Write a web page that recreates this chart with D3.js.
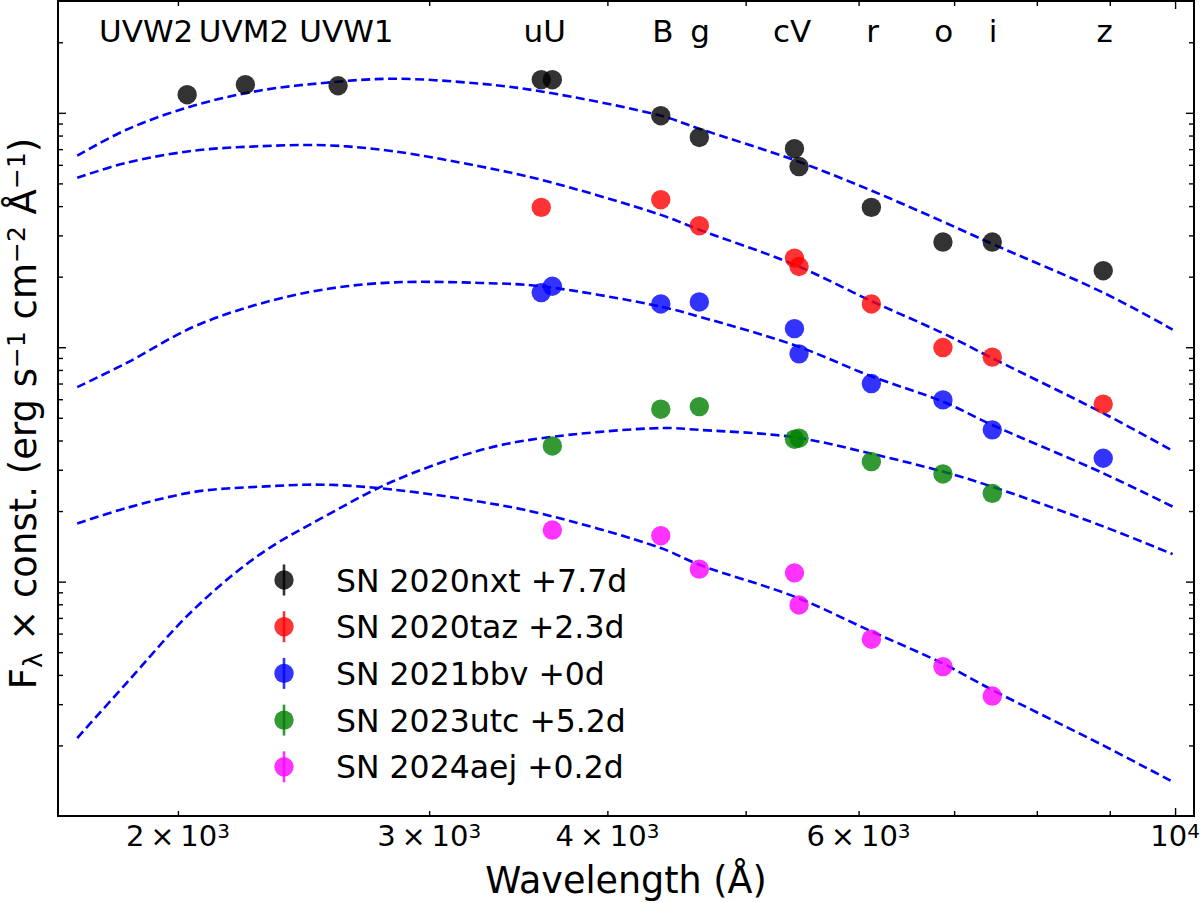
<!DOCTYPE html>
<html>
<head>
<meta charset="utf-8">
<script src="https://cdn.jsdelivr.net/npm/d3@7"></script>
<style>
  body { margin: 0; background: #fff; }
  text { font-family: "DejaVu Sans", sans-serif; fill: #000; }
</style>
</head>
<body>
<div id="chart"></div>
<script>
'use strict';

// filter bands and their effective wavelengths (Å)
var bands = ["UVW2", "UVM2", "UVW1", "u", "U", "B", "g", "c", "V", "r", "o", "i", "z"];
var bandWave = [2030, 2230, 2590, 3595, 3660, 4360, 4640, 5410, 5450, 6125, 6875, 7445, 8905];

// labels written along the top of the plot
var bandLabels = ["UVW2", "UVM2", "UVW1", "uU", "B", "g", "cV", "r", "o", "i", "z"];
var bandLabelWave = [1900, 2225, 2625, 3615, 4375, 4645, 5390, 6138, 6884, 7454, 8925];
var bandLabelFlux = 2000;

// photometry, F_lambda x const (arbitrary units), same order as bands
var sn2020nxt = [1195, 1318, 1305, 1385, 1385, 972, 785, 703, 590, 395, 281, 281, 212];
var sn2020taz = [null, null, null, 395, null, 426, 330, 240, 221, 153, 99.7, 90.7, 57.2];
var sn2021bbv = [null, null, null, 171, 182, 153, 156, 120, 93.7, 70.0, 59.6, 44.4, 33.6];
var sn2023utc = [null, null, null, null, 37.9, 54.4, 55.8, 40.5, 40.9, 32.5, 28.8, 23.8, null];
var sn2024aej = [null, null, null, null, 16.6, 15.7, 11.3, 10.9, 7.95, 5.68, 4.34, 3.25, null];

// blackbody fits
var fitWave = [1700, 1840, 2050, 2280, 2540, 2830, 3260, 3595, 4360, 4640, 5410, 6130, 6870, 7445, 8905, 9960];
var bbNxt = [656, 847, 1072, 1243, 1344, 1398, 1331, 1234, 972, 855, 628, 465, 344, 276, 171, 119];
var bbTaz = [528, 612, 689, 720, 727, 686, 590, 518, 367, 317, 225, 157, 115, 89.8, 52.3, 36.2];
var bbBbv = [67.6, 85.5, 122, 153, 177, 189, 188, 182, 149, 135, 102, 75.0, 58.7, 46.6, 29.0, 20.9];
var bbUtc = [2.15, 3.68, 7.57, 13.0, 19.1, 26.8, 36.4, 40.9, 45.2, 44.4, 41.3, 35.1, 29.5, 25.4, 17.2, 13.1];
var bbAej = [17.7, 20.6, 24.1, 25.4, 25.9, 24.7, 21.9, 19.5, 13.9, 11.8, 8.63, 6.12, 4.48, 3.45, 2.00, 1.40];

var seriesNames = ["SN 2020nxt +7.7d", "SN 2020taz +2.3d", "SN 2021bbv +0d", "SN 2023utc +5.2d", "SN 2024aej +0.2d"];
var seriesColors = ["black", "red", "blue", "green", "magenta"];
var seriesFlux = [sn2020nxt, sn2020taz, sn2021bbv, sn2023utc, sn2024aej];
var seriesFits = [bbNxt, bbTaz, bbBbv, bbUtc, bbAej];

// axis ticks
var xMinorTicks = [2000, 3000, 4000, 5000, 6000, 7000, 8000, 9000];
var xMajorTicks = [10000];
var xLabelVals = [2000, 3000, 4000, 6000, 10000];
var xLabelMant = ["2", "3", "4", "6", ""];
var xLabelExp = ["3", "3", "3", "3", "4"];
var yMajorTicks = [10, 100, 1000];

var el_width = 1200, el_height = 903;
var margin = {top: 1, right: 6, bottom: 87, left: 58},
  width = el_width - margin.left - margin.right,
  height = el_height - margin.top - margin.bottom;

var svg = d3.select("#chart").append("svg")
  .attr("width", el_width)
  .attr("height", el_height)
  .append("g")
  .attr("transform", "translate(" + margin.left + "," + margin.top + ")");

var x = d3.scaleLog().domain([1648, 10310]).range([0, width]),
  y = d3.scaleLog().domain([1, 3000]).range([height, 0]);

var yMinorTicks = [];
[1, 10, 100, 1000].forEach(function(dec){
  for (var k = 2; k <= 9; k++) if (dec * k < 3000) yMinorTicks.push(dec * k);
});

var majorLen = 8, minorLen = 5;

function tickAxis(axis, vals, len){
  return axis.tickValues(vals).tickSize(-len).tickFormat("");
}

function drawTicks(g){
  g.select(".domain").remove();
  g.selectAll("line").attr("stroke", "#000").attr("stroke-width", 1.4);
}

svg.append("g").attr("transform", "translate(0," + height + ")").call(tickAxis(d3.axisBottom(x), xMinorTicks, minorLen)).call(drawTicks);
svg.append("g").attr("transform", "translate(0," + height + ")").call(tickAxis(d3.axisBottom(x), xMajorTicks, majorLen)).call(drawTicks);
svg.append("g").call(tickAxis(d3.axisTop(x), xMinorTicks, minorLen)).call(drawTicks);
svg.append("g").call(tickAxis(d3.axisTop(x), xMajorTicks, majorLen)).call(drawTicks);
svg.append("g").call(tickAxis(d3.axisLeft(y), yMinorTicks, minorLen)).call(drawTicks);
svg.append("g").call(tickAxis(d3.axisLeft(y), yMajorTicks, majorLen)).call(drawTicks);
svg.append("g").attr("transform", "translate(" + width + ",0)").call(tickAxis(d3.axisRight(y), yMinorTicks, minorLen)).call(drawTicks);
svg.append("g").attr("transform", "translate(" + width + ",0)").call(tickAxis(d3.axisRight(y), yMajorTicks, majorLen)).call(drawTicks);

// x tick labels, matplotlib style  m x 10^e
var xl = svg.append("g").attr("class", "xlabels");
xLabelVals.forEach(function(v, i){
  var t = xl.append("text")
    .attr("x", x(v))
    .attr("y", height + 30)
    .attr("text-anchor", "middle")
    .style("font-size", "29px");
  t.append("tspan").text(xLabelMant[i] ? xLabelMant[i] + "\u2009\u00d7\u200910" : "10");
  t.append("tspan").attr("dy", "-0.42em").style("font-size", "20px").text(xLabelExp[i]);
});

// blackbody curves
var line = d3.line()
  .x(function(d){ return x(d[0]); })
  .y(function(d){ return y(d[1]); })
  .curve(d3.curveCatmullRom.alpha(0.5));

var plot = svg.append("g").attr("class", "plot");

seriesFits.forEach(function(fit){
  plot.append("path")
    .attr("class", "line")
    .attr("d", line(fit.map(function(f, i){ return [fitWave[i], f]; })))
    .attr("fill", "none")
    .attr("stroke", "#0000ff")
    .attr("stroke-width", 2.6)
    .attr("stroke-dasharray", "9,4.5");
});

// photometry
seriesFlux.forEach(function(flux, s){
  var pts = flux.map(function(f, i){ return {w: bandWave[i], f: f}; })
    .filter(function(d){ return d.f != null; });
  plot.selectAll(".dot" + s)
    .data(pts)
    .enter()
    .append("circle")
    .attr("class", "dot" + s)
    .attr("cx", function(d){ return x(d.w); })
    .attr("cy", function(d){ return y(d.f); })
    .attr("r", 9.7)
    .attr("fill", seriesColors[s])
    .attr("fill-opacity", 0.8);
});

// band names at the top
svg.append("g").selectAll("text")
  .data(bandLabels)
  .enter()
  .append("text")
  .attr("x", function(d, i){ return x(bandLabelWave[i]); })
  .attr("y", y(bandLabelFlux))
  .attr("text-anchor", "middle")
  .style("font-size", "31px")
  .text(function(d){ return d; });

// frame
svg.append("rect")
  .attr("width", width)
  .attr("height", height)
  .attr("fill", "none")
  .attr("stroke", "#000")
  .attr("stroke-width", 2);

// legend
var legend = svg.append("g").attr("transform", "translate(" + (284 - margin.left) + "," + (580 - margin.top) + ")");
var item = legend.selectAll("g")
  .data(seriesNames)
  .enter()
  .append("g")
  .attr("transform", function(d, i){ return "translate(0," + (i * 46.7) + ")"; });
item.append("line")
  .attr("y1", -15.5).attr("y2", 15.5)
  .attr("stroke", function(d, i){ return seriesColors[i]; })
  .attr("stroke-opacity", 0.8)
  .attr("stroke-width", 2.6);
item.append("circle")
  .attr("r", 9.7)
  .attr("fill", function(d, i){ return seriesColors[i]; })
  .attr("fill-opacity", 0.8);
item.append("text")
  .attr("x", 52)
  .attr("y", 11.5)
  .style("font-size", "31.5px")
  .text(function(d){ return d; });

// axis titles
svg.append("text")
  .attr("x", width / 2)
  .attr("y", height + 77)
  .attr("text-anchor", "middle")
  .style("font-size", "36.5px")
  .text("Wavelength (\u00c5)");

var yt = svg.append("text")
  .attr("transform", "translate(" + (36 - margin.left) + "," + (height / 2 + 5) + ") rotate(-90)")
  .attr("text-anchor", "middle")
  .style("font-size", "37px");
yt.append("tspan").text("F");
yt.append("tspan").attr("baseline-shift", "-6px").style("font-size", "26px").text("\u03bb");
yt.append("tspan").text(" \u00d7 const. (erg s");
yt.append("tspan").attr("baseline-shift", "11px").style("font-size", "25px").text("\u22121");
yt.append("tspan").text(" cm");
yt.append("tspan").attr("baseline-shift", "11px").style("font-size", "25px").text("\u22122");
yt.append("tspan").text(" \u00c5");
yt.append("tspan").attr("baseline-shift", "11px").style("font-size", "25px").text("\u22121");
yt.append("tspan").text(")");
</script>
</body>
</html>
